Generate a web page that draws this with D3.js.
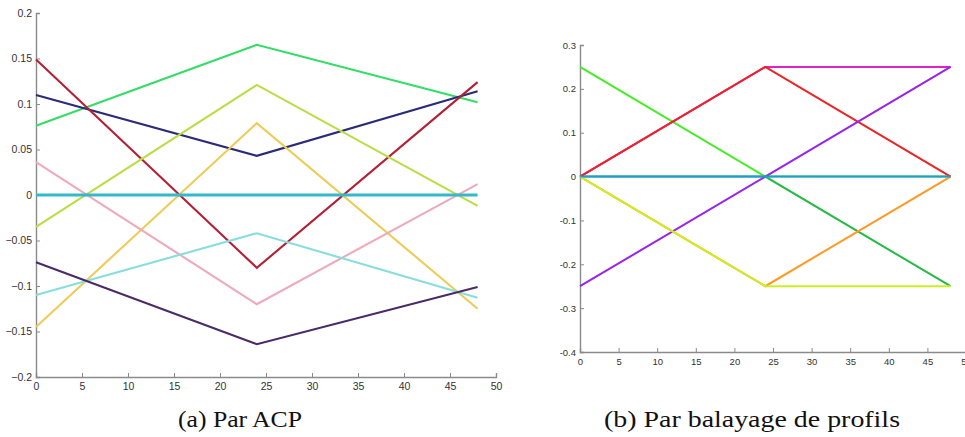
<!DOCTYPE html>
<html><head><meta charset="utf-8">
<script src="https://cdn.jsdelivr.net/npm/d3@7"></script>
<style>
body{margin:0;background:#fff;}
svg{display:block;}
</style></head>
<body>
<svg id="c" width="965" height="437"></svg>
<script>
// ---- Data ----
const xPoints = [0, 24, 48];

// (a) Par ACP
const acpNames = ["green","navy","red","yellowgreen","yellow","pink","lightcyan","purple","cyan"];
const acpColors = ["#33dd66","#2b2b78","#b32035","#bbdd44","#eecc55","#eeaabb","#88dddd","#4a2a68","#33b8cc"];
const acpValues = [
  [0.076, 0.165, 0.102],
  [0.110, 0.043, 0.114],
  [0.149, -0.080, 0.124],
  [-0.035, 0.121, -0.012],
  [-0.145, 0.079, -0.125],
  [0.036, -0.120, 0.012],
  [-0.110, -0.042, -0.113],
  [-0.074, -0.164, -0.101],
  [0, 0, 0]
];
const acpXTicks = [0,5,10,15,20,25,30,35,40,45,50];
const acpYTicks = [-0.2,-0.15,-0.1,-0.05,0,0.05,0.1,0.15,0.2];

// (b) Par balayage de profils
const balColors = ["#22bb44","#44ee22","#dd22cc","#ee2222","#9922ee","#ff9922","#ccee22","#2299dd"];
const balValues = [
  [0, 0, -0.25],
  [0.25, 0, 0],
  [0, 0.25, 0.25],
  [0, 0.25, 0],
  [-0.25, 0, 0.25],
  [0, -0.25, 0],
  [0, -0.25, -0.25],
  [0, 0, 0]
];
const balXTicks = [0,5,10,15,20,25,30,35,40,45,50];
const balYTicks = [-0.4,-0.3,-0.2,-0.1,0,0.1,0.2,0.3];

const captions = ["(a) Par ACP", "(b) Par balayage de profils"];

// ---- Drawing ----
const svg = d3.select("#c");

function fmt(v){
  return String(+v.toFixed(2));
}

function panel(opts){
  const g = svg.append("g");
  const x = d3.scaleLinear().domain(opts.xDomain).range(opts.xRange);
  const y = d3.scaleLinear().domain(opts.yDomain).range(opts.yRange);
  const line = d3.line().x((d,i)=>x(xPoints[i])).y(d=>y(d));
  const ax = g.append("g").attr("transform",`translate(0,${opts.yRange[0]})`)
    .call(d3.axisBottom(x).tickValues(opts.xTicks).tickSize(-4).tickPadding(6).tickFormat(d3.format("d")));
  const ay = g.append("g").attr("transform",`translate(${opts.xRange[0]},0)`)
    .call(d3.axisLeft(y).tickValues(opts.yTicks).tickSize(-4).tickPadding(4).tickFormat(opts.yFmt));
  [ax,ay].forEach(a=>{
    a.select(".domain").attr("stroke","#8a8a8a").attr("stroke-width",1.4);
    a.selectAll(".tick line").attr("stroke","#8a8a8a");
    a.selectAll(".tick text").attr("fill","#333").attr("font-family","Liberation Sans, Arial, sans-serif").attr("font-size",opts.fs);
  });
  g.selectAll("path.series").data(opts.values).enter().append("path")
    .attr("class","series")
    .attr("d",line)
    .attr("fill","none")
    .attr("stroke",(d,i)=>opts.colors[i])
    .attr("stroke-width",(d,i)=> i===opts.thickIndex ? opts.sw+0.8 : opts.sw)
    .attr("stroke-linejoin","miter");
  return g;
}

panel({
  xDomain:[0,50], xRange:[36,496],
  yDomain:[-0.2,0.2], yRange:[377,13],
  xTicks:acpXTicks, yTicks:acpYTicks,
  yFmt: v => (v<0?"\u2212":"") + fmt(Math.abs(v)),
  values:acpValues, colors:acpColors, sw:2.1, fs:10.5, thickIndex:8
});

panel({
  xDomain:[0,50], xRange:[580,966],
  yDomain:[-0.4,0.3], yRange:[352,45],
  xTicks:balXTicks, yTicks:balYTicks,
  yFmt: v => fmt(v),
  values:balValues, colors:balColors, sw:2, fs:9.5, thickIndex:-1
});

const capX = [240, 752], capW = [124, 296];
svg.selectAll("text.cap").data(captions).enter().append("text")
  .attr("class","cap")
  .attr("x",(d,i)=> capX[i] - capW[i]/2)
  .attr("y",427)
  .attr("textLength",(d,i)=>capW[i])
  .attr("lengthAdjust","spacingAndGlyphs")
  .attr("font-family","Liberation Serif, Times New Roman, serif")
  .attr("font-size",24)
  .attr("fill","#111")
  .text(d=>d);
</script>
</body></html>
